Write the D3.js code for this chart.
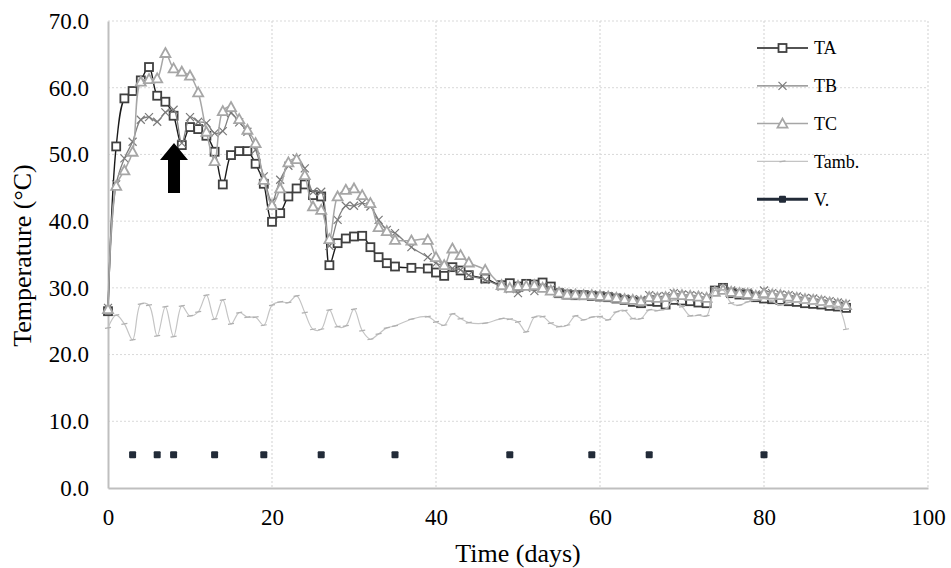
<!DOCTYPE html>
<html>
<head>
<meta charset="utf-8">
<script src="https://cdnjs.cloudflare.com/ajax/libs/d3/7.8.5/d3.min.js"></script>
<style>
    body { margin: 0; background: #fff; }
    text { font-family: "Liberation Serif", "Times New Roman", serif; }
</style>
</head>
<body>
<div id="chart"></div>
<script>
// ---- data ----
const days = [0, 1, 2, 3, 4, 5, 6, 7, 8, 9, 10, 11, 12, 13, 14, 15, 16, 17, 18, 19, 20,
    21, 22, 23, 24, 25, 26, 27, 28, 29, 30, 31, 32, 33, 34, 35, 37, 39, 40, 41, 42, 43, 44, 46,
    48, 49, 50, 51, 52, 53, 54, 55, 56, 57, 58, 59, 60, 61, 62, 63, 64, 65, 66, 67, 68, 69, 70,
    71, 72, 73, 74, 75, 76, 77, 78, 79, 80, 81, 82, 83, 84, 85, 86, 87, 88, 89, 90];

const TA = [26.5, 51.2, 58.4, 59.5, 61.1, 63.1, 58.8, 57.9, 55.8, 51.4, 54.1, 53.8, 52.8, 50.4, 45.5,
    49.9, 50.5, 50.5, 48.6, 45.6, 39.9, 41.2, 43.7, 44.9, 45.5, 43.9, 43.7, 33.4, 36.7, 37.4, 37.7,
    37.8, 36.1, 34.6, 33.7, 33.2,
    33.0, 32.9, 32.3, 31.8, 33.1, 32.6, 31.9, 31.4,
    30.4, 30.7, 30.2, 30.6, 30.5, 30.8, 30.2, 29.2, 29.0, 28.9, 28.9, 28.8, 28.7, 28.6, 28.4, 28.2,
    27.9, 27.7, 28.0, 27.9, 27.5, 28.2, 28.1, 28.0, 27.8, 27.7, 29.6, 30.0, 29.2, 29.0, 29.0, 28.6,
    28.4, 28.3, 28.2, 28.0, 27.9, 27.7, 27.6, 27.5, 27.3, 27.2, 27.0];

const TB = [27.0, 45.5, 49.4, 51.9, 55.2, 55.6, 54.9, 56.3, 56.7, 51.7, 55.6, 54.9, 54.7, 53.2, 53.5,
    56.2, 54.8, 53.4, 50.7, 46.7, 42.9, 46.2, 48.3, 49.4, 47.9, 44.4, 44.4, 36.3, 40.2, 42.3, 42.3,
    42.7, 42.2, 40.2, 38.7, 38.2,
    36.1, 34.6, 33.7, 33.3, 32.9, 32.7, 31.9, 31.2,
    30.2, 29.8, 29.2, 30.0, 29.5, 30.2, 29.8, 29.4, 29.2, 29.1, 29.0, 29.0, 28.9, 28.8, 28.6, 28.4,
    28.3, 28.2, 28.9, 28.7, 28.8, 29.2, 29.0, 28.9, 28.8, 28.6, 29.5, 30.0, 29.6, 29.4, 29.3, 29.0,
    29.6, 29.2, 29.0, 28.9, 28.7, 28.5, 28.4, 28.2, 28.0, 27.8, 27.6];

const TC = [26.8, 45.3, 47.6, 50.4, 60.9, 61.3, 61.4, 65.2, 62.9, 62.4, 61.8, 59.3, 53.4, 49.0, 56.5,
    57.1, 55.3, 53.7, 51.7, 46.2, 42.4, 44.9, 48.8, 49.3, 46.9, 42.2, 41.7, 37.3, 43.7, 44.7, 44.9,
    43.9, 42.7, 39.1, 38.5, 37.2,
    37.1, 37.2, 34.6, 33.4, 35.9, 34.9, 33.8, 32.7,
    30.4, 30.0, 30.3, 30.3, 30.4, 30.0, 29.6, 29.3, 29.0, 29.0, 28.9, 28.9, 28.8, 28.7, 28.5, 28.3,
    28.2, 28.0, 28.6, 28.5, 28.6, 29.0, 28.9, 28.8, 28.7, 28.5, 29.4, 29.7, 29.4, 29.2, 29.1, 28.8,
    29.2, 29.0, 28.9, 28.7, 28.5, 28.3, 28.2, 28.0, 27.8, 27.6, 27.4];

const Tamb = [24.0, 25.9, 24.6, 22.2, 27.6, 27.4, 22.8, 27.2, 22.7, 27.3, 25.8, 26.4, 28.9, 25.3, 28.2,
    24.6, 26.3, 25.6, 25.6, 24.4, 27.4, 27.9, 27.8, 28.8, 26.3, 23.8, 23.8, 26.7, 24.2, 24.3, 26.8,
    23.6, 22.3, 23.1, 24.0, 24.3,
    25.3, 25.7, 24.9, 24.4, 26.1, 25.4, 24.8, 24.7,
    25.4, 25.3, 24.9, 23.4, 25.6, 25.7, 24.7, 24.2, 24.4, 25.8, 25.2, 25.6, 25.7, 25.2, 26.4, 26.6,
    25.4, 25.4, 26.7, 26.6, 26.8, 28.2, 27.2, 25.8, 25.9, 25.8, 29.6, 29.7, 27.7, 27.4, 27.9, 28.2,
    28.4, 28.0, 27.4, 27.8, 27.9, 27.7, 27.6, 27.4, 27.3, 27.2, 23.8];

const vDays = [3, 6, 8, 13, 19, 26, 35, 49, 59, 66, 80];
const vValues = [5.0, 5.0, 5.0, 5.0, 5.0, 5.0, 5.0, 5.0, 5.0, 5.0, 5.0];

const xTicks = [0, 20, 40, 60, 80, 100];
const yTicks = [0, 10, 20, 30, 40, 50, 60, 70];
const legendNames = ["TA", "TB", "TC", "Tamb.", "V."];

// arrow annotation (day, top value, bottom value)
const arrowDay = 8.05;
const arrowTop = 51.7;
const arrowBottom = 44.2;

// ---- layout ----
var margin = { top: 21, right: 23, bottom: 80, left: 108 };
var width = 951 - margin.left - margin.right;
var height = 568 - margin.top - margin.bottom;

var svg = d3.select("#chart")
    .append("svg")
    .attr("width", 951)
    .attr("height", 568)
    .append("g")
    .attr("transform", "translate(" + margin.left + "," + margin.top + ")");

var x = d3.scaleLinear().domain([0, 100]).range([0, width]);
var y = d3.scaleLinear().domain([0, 70]).range([height, 0]);

// gridlines
svg.append("g")
    .selectAll("line")
    .data(yTicks.filter(d => d > 0))
    .join("line")
    .attr("x1", 0).attr("x2", width)
    .attr("y1", d => y(d)).attr("y2", d => y(d))
    .attr("stroke", "#d9d9d9")
    .attr("stroke-width", 1)
    .attr("stroke-dasharray", "2,2");

svg.append("g")
    .selectAll("line")
    .data(xTicks.filter(d => d > 0))
    .join("line")
    .attr("x1", d => x(d)).attr("x2", d => x(d))
    .attr("y1", 0).attr("y2", height)
    .attr("stroke", "#d9d9d9")
    .attr("stroke-width", 1.2)
    .attr("stroke-dasharray", "2,2");

// axes
let xAxis = svg.append("g")
    .attr("transform", "translate(0," + height + ")")
    .call(d3.axisBottom(x).tickValues(xTicks).tickSize(0).tickPadding(21).tickFormat(d3.format("d")));

let yAxis = svg.append("g")
    .call(d3.axisLeft(y).tickValues(yTicks).tickSize(0).tickPadding(19).tickFormat(d3.format(".1f")));

[xAxis, yAxis].forEach(function (a) {
    a.attr("font-family", null).attr("font-size", null);
    a.select(".domain").attr("stroke", "#bfbfbf").attr("stroke-width", 2);
    a.selectAll(".tick text").attr("fill", "#000").style("font-size", "23px");
});

// axis titles
svg.append("text")
    .attr("x", width / 2)
    .attr("y", height + 74)
    .attr("text-anchor", "middle")
    .style("font-size", "26px")
    .text("Time (days)");

svg.append("text")
    .attr("transform", "translate(" + (31 - margin.left) + "," + (height / 2 + 1) + ") rotate(-90)")
    .attr("text-anchor", "middle")
    .style("font-size", "26px")
    .text("Temperature (°C)");

// ---- series ----
function seriesData(vals) {
    return days.map((d, i) => [d, vals[i]]);
}

var line = d3.line()
    .x(d => x(d[0]))
    .y(d => y(d[1]))
    .curve(d3.curveCatmullRom.alpha(0.5));

var styles = [
    { vals: TA, color: "#1a1a1a", width: 1.4, marker: "square", mcolor: "#404040" },
    { vals: TB, color: "#808080", width: 1.3, marker: "cross", mcolor: "#7a7a7a" },
    { vals: TC, color: "#a6a6a6", width: 1.5, marker: "triangle", mcolor: "#a6a6a6" },
    { vals: Tamb, color: "#c4c4c4", width: 1.2, marker: "dash", mcolor: "#b0b0b0" }
];

function drawMarker(g, kind, color) {
    if (kind === "square") {
        g.append("rect")
            .attr("x", -4).attr("y", -4).attr("width", 8).attr("height", 8)
            .attr("fill", "#fff").attr("stroke", color).attr("stroke-width", 1.8);
    } else if (kind === "cross") {
        g.append("path")
            .attr("d", "M-4,-4L4,4M-4,4L4,-4")
            .attr("stroke", color).attr("stroke-width", 1.2).attr("fill", "none");
    } else if (kind === "triangle") {
        g.append("path")
            .attr("d", "M0,-5L5,4L-5,4Z")
            .attr("fill", "#fff").attr("stroke", color).attr("stroke-width", 1.8);
    } else if (kind === "dash") {
        g.append("path")
            .attr("d", "M-3,0.5L3,-0.5")
            .attr("stroke", color).attr("stroke-width", 1.2).attr("fill", "none");
    }
}

styles.forEach(function (s) {
    var data = seriesData(s.vals);
    svg.append("path")
        .datum(data)
        .attr("fill", "none")
        .attr("stroke", s.color)
        .attr("stroke-width", s.width)
        .attr("d", line);

    svg.append("g")
        .selectAll("g")
        .data(data)
        .join("g")
        .attr("transform", d => "translate(" + x(d[0]) + "," + y(d[1]) + ")")
        .each(function () { drawMarker(d3.select(this), s.marker, s.mcolor); });
});

// V. markers (no connecting line in the plot)
svg.append("g")
    .selectAll("rect")
    .data(vDays.map((d, i) => [d, vValues[i]]))
    .join("rect")
    .attr("x", d => x(d[0]) - 3.5)
    .attr("y", d => y(d[1]) - 3.5)
    .attr("width", 7)
    .attr("height", 7)
    .attr("rx", 1)
    .attr("fill", "#222b38");

// arrow
var ax = x(arrowDay), ayTop = y(arrowTop), ayBot = y(arrowBottom);
svg.append("path")
    .attr("d", "M" + ax + "," + ayTop +
        "L" + (ax + 14) + "," + (ayTop + 17) +
        "L" + (ax + 6) + "," + (ayTop + 17) +
        "L" + (ax + 6) + "," + ayBot +
        "L" + (ax - 6) + "," + ayBot +
        "L" + (ax - 6) + "," + (ayTop + 17) +
        "L" + (ax - 14) + "," + (ayTop + 17) + "Z")
    .attr("fill", "#000");

// ---- legend ----
var legendStyles = [
    { color: "#1a1a1a", width: 1.4, marker: "square", mcolor: "#404040" },
    { color: "#808080", width: 1.3, marker: "cross", mcolor: "#7a7a7a" },
    { color: "#a6a6a6", width: 1.5, marker: "triangle", mcolor: "#a6a6a6" },
    { color: "#c4c4c4", width: 1.2, marker: "dash", mcolor: "#b0b0b0" },
    { color: "#222b38", width: 3, marker: "vsquare", mcolor: "#222b38" }
];

var legend = svg.append("g")
    .attr("transform", "translate(" + (757 - margin.left) + "," + (48 - margin.top) + ")");

legendNames.forEach(function (name, i) {
    var st = legendStyles[i];
    var row = legend.append("g").attr("transform", "translate(0," + (i * 37.8) + ")");
    row.append("line")
        .attr("x1", 0).attr("x2", 51)
        .attr("stroke", st.color)
        .attr("stroke-width", st.width);
    var m = row.append("g").attr("transform", "translate(25.5,0)");
    if (st.marker === "vsquare") {
        m.append("rect").attr("x", -3.5).attr("y", -3.5).attr("width", 7).attr("height", 7)
            .attr("rx", 1).attr("fill", st.mcolor);
    } else {
        drawMarker(m, st.marker, st.mcolor);
    }
    row.append("text")
        .attr("x", 57)
        .attr("dy", "0.35em")
        .style("font-size", "18px")
        .attr("fill", "#000")
        .text(name);
});
</script>
</body>
</html>
